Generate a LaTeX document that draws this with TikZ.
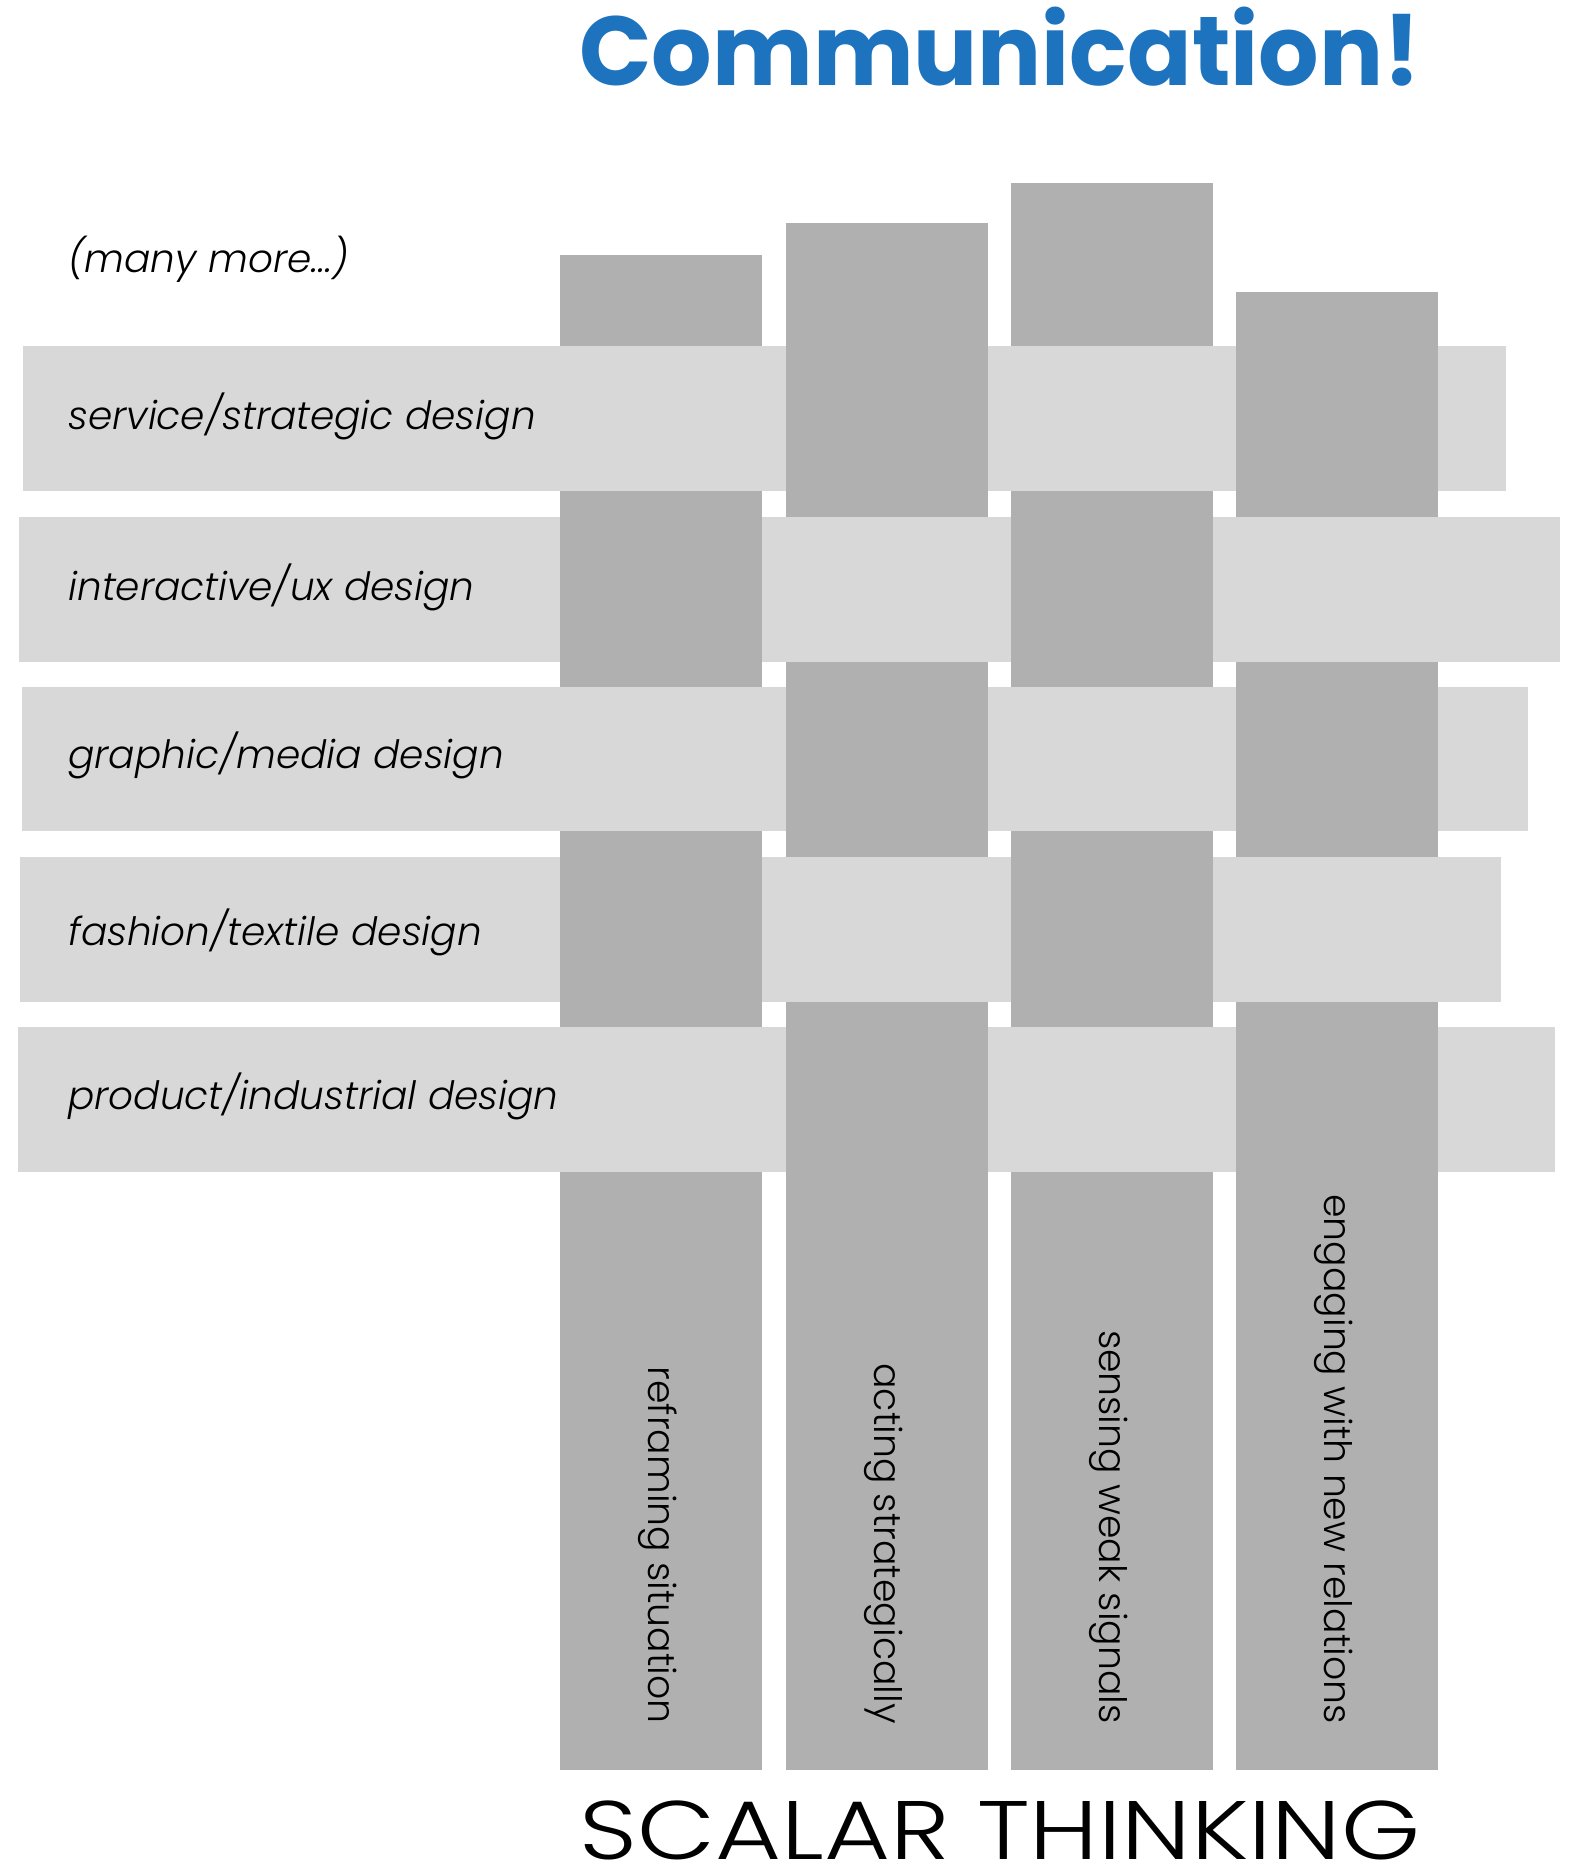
\documentclass[tikz,border=0pt]{standalone}
\usepackage{fontspec}
\setmainfont{Poppins}[UprightFont=* Light, ItalicFont=* Light Italic, BoldFont=* Bold]
\usepackage{tikz}
\definecolor{rowgray}{RGB}{216,216,216}
\definecolor{colgray}{RGB}{176,176,176}
\definecolor{titleblue}{RGB}{30,115,190}

\begin{document}
\begin{tikzpicture}[x=0.5pt, y=-0.5pt,
  rowbar/.style={fill=rowgray},
  colbar/.style={fill=colgray},
  rowlabel/.style={anchor=base west, inner sep=0pt, font=\fontsize{19.5}{22}\selectfont\itshape},
  collabel/.style={anchor=east, rotate=-90, inner sep=0pt, font=\fontsize{18.9}{22}\selectfont}]
\useasboundingbox (0,0) rectangle (1571,1869);
% columns
\fill[colbar] (560,255) rectangle (762,1770);
\fill[colbar] (786,223) rectangle (988,1770);
\fill[colbar] (1011,183) rectangle (1213,1770);
\fill[colbar] (1236,292) rectangle (1438,1770);
% rows
\fill[rowbar] (23,346) rectangle (1506,491);
\fill[rowbar] (19,517) rectangle (1560,662);
\fill[rowbar] (22,687) rectangle (1528,831);
\fill[rowbar] (20,857) rectangle (1501,1002);
\fill[rowbar] (18,1027) rectangle (1555,1172);
% columns passing over rows
\fill[colbar] (786,346) rectangle (988,491);
\fill[colbar] (1236,346) rectangle (1438,491);
\fill[colbar] (560,517) rectangle (762,662);
\fill[colbar] (1011,517) rectangle (1213,662);
\fill[colbar] (786,687) rectangle (988,831);
\fill[colbar] (1236,687) rectangle (1438,831);
\fill[colbar] (560,857) rectangle (762,1002);
\fill[colbar] (1011,857) rectangle (1213,1002);
\fill[colbar] (786,1027) rectangle (988,1172);
\fill[colbar] (1236,1027) rectangle (1438,1172);
% labels
\node[anchor=base, inner sep=0pt, text=titleblue, font=\fontsize{49}{56}\selectfont\bfseries] (title) at (1000,85) {\scalebox{0.97}[1]{Communication!}};
\node[rowlabel] (more) at (68,272) {(many more...)};
\node[rowlabel] (service) at (68,429) {service/strategic design};
\node[rowlabel] (interactive) at (68,600) {interactive/ux design};
\node[rowlabel] (graphic) at (68,768) {graphic/media design};
\node[rowlabel] (fashion) at (68,945) {fashion/textile design};
\node[rowlabel] (product) at (68,1109) {product/industrial design};
\node[collabel] (reframing) at (658,1724) {reframing situation};
\node[collabel] (acting) at (884,1724) {acting strategically};
\node[collabel] (sensing) at (1109,1724) {sensing weak signals};
\node[collabel] (engaging) at (1334,1724) {engaging with new relations};
\node[anchor=base, inner sep=0pt, font=\fontsize{41.5}{46}\selectfont] (scalar) at (1000,1859) {\scalebox{1.22}[1]{SCALAR THINKING}};
\end{tikzpicture}
\end{document}
